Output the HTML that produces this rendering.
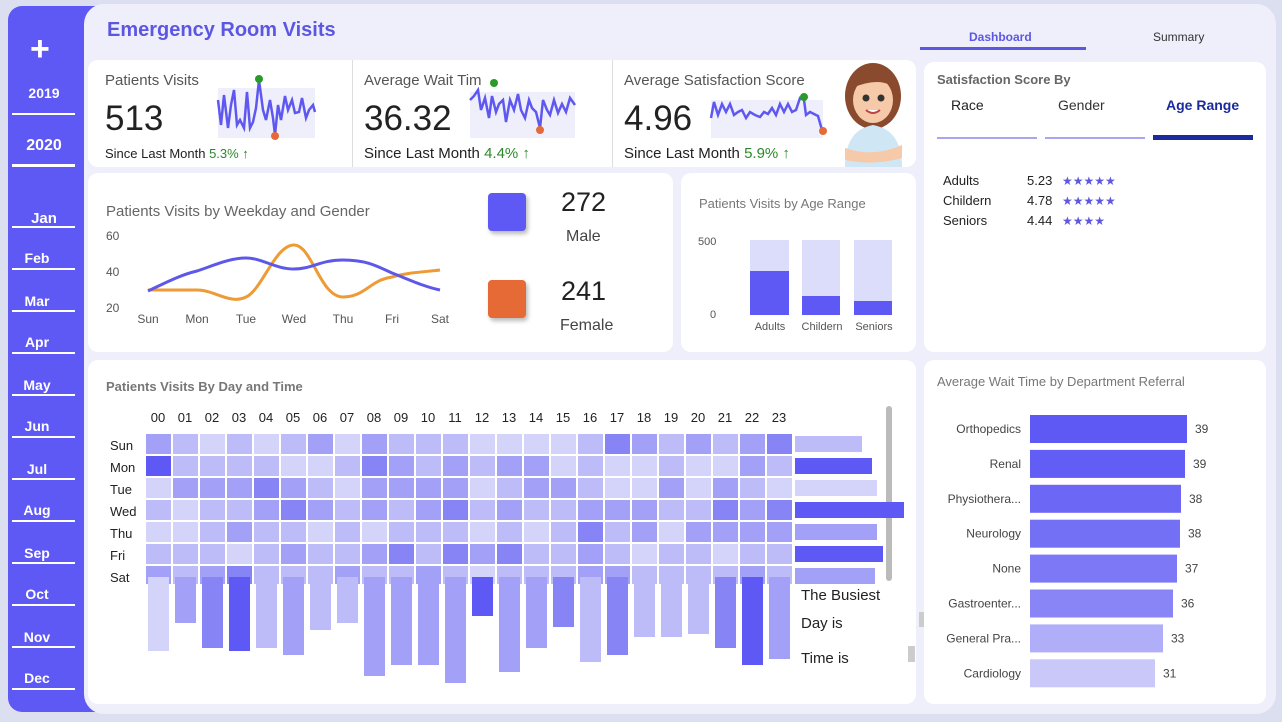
<!DOCTYPE html>
<html><head><meta charset="utf-8">
<style>
*{margin:0;padding:0;box-sizing:border-box}
body{width:1282px;height:722px;background:#dcdff0;font-family:"Liberation Sans",sans-serif;position:relative;overflow:hidden}
.a{position:absolute}
.card{position:absolute;background:#fff;border-radius:10px}
.side{color:#fff;font-size:14px;font-weight:bold;text-align:center;width:64px;left:12px}
.sl{position:absolute;left:12px;width:63px;height:2px;background:#fff}
.t{position:absolute;white-space:nowrap}
</style></head><body>
<div class="a" style="left:8px;top:6px;width:110px;height:706px;background:#5e58f4;border-radius:14px"></div>
<div class="a" style="left:84px;top:4px;width:1192px;height:710px;background:#efeffc;border-radius:20px"></div>

<!-- sidebar -->
<div class="t" style="left:30px;top:30px;color:#fff;font-size:34px;font-weight:bold">+</div>
<div class="t side" style="top:85px">2019</div><div class="sl" style="top:113px"></div>
<div class="t side" style="top:137px;font-size:16px">2020</div><div class="sl" style="top:164px;height:3px"></div>
<div class="t side" style="top:210px;font-size:15px">Jan</div><div class="sl" style="top:226px"></div>
<div class="t side" style="top:250px;left:10px;width:54px">Feb</div><div class="sl" style="top:268px"></div>
<div class="t side" style="top:293px;left:10px;width:54px">Mar</div><div class="sl" style="top:310px"></div>
<div class="t side" style="top:334px;left:10px;width:54px">Apr</div><div class="sl" style="top:352px"></div>
<div class="t side" style="top:377px;left:10px;width:54px">May</div><div class="sl" style="top:394px"></div>
<div class="t side" style="top:418px;left:10px;width:54px">Jun</div><div class="sl" style="top:436px"></div>
<div class="t side" style="top:461px;left:10px;width:54px">Jul</div><div class="sl" style="top:478px"></div>
<div class="t side" style="top:502px;left:10px;width:54px">Aug</div><div class="sl" style="top:520px"></div>
<div class="t side" style="top:545px;left:10px;width:54px">Sep</div><div class="sl" style="top:562px"></div>
<div class="t side" style="top:586px;left:10px;width:54px">Oct</div><div class="sl" style="top:604px"></div>
<div class="t side" style="top:629px;left:10px;width:54px">Nov</div><div class="sl" style="top:646px"></div>
<div class="t side" style="top:670px;left:10px;width:54px">Dec</div><div class="sl" style="top:688px"></div>

<!-- header -->
<div class="t" style="left:107px;top:19px;font-size:20px;font-weight:bold;color:#5c57e0">Emergency Room Visits</div>
<div class="t" style="left:969px;top:30px;font-size:12px;font-weight:bold;color:#5c57e0">Dashboard</div>
<div class="a" style="left:920px;top:47px;width:166px;height:3px;background:#5c57e0"></div>
<div class="t" style="left:1153px;top:30px;font-size:12px;color:#333">Summary</div>

<!-- KPI card -->
<div class="card" style="left:88px;top:60px;width:828px;height:107px"></div>
<div class="a" style="left:352px;top:60px;width:1px;height:107px;background:#ddd"></div>
<div class="a" style="left:612px;top:60px;width:1px;height:107px;background:#ddd"></div>
<div class="t" style="left:105px;top:72px;font-size:15px;color:#555">Patients Visits</div>
<div class="t" style="left:105px;top:99px;font-size:35px;color:#222">513</div>
<div class="t" style="left:105px;top:146px;font-size:13px;color:#222">Since Last Month <span style="color:#2a8a2a">5.3% ↑</span></div>
<div class="t" style="left:364px;top:72px;font-size:15px;color:#555">Average Wait Tim</div>
<div class="t" style="left:364px;top:99px;font-size:35px;color:#222">36.32</div>
<div class="t" style="left:364px;top:145px;font-size:15px;color:#222">Since Last Month <span style="color:#2a8a2a">4.4% ↑</span></div>
<div class="t" style="left:624px;top:72px;font-size:15px;color:#555">Average Satisfaction Score</div>
<div class="t" style="left:624px;top:99px;font-size:35px;color:#222">4.96</div>
<div class="t" style="left:624px;top:145px;font-size:15px;color:#222">Since Last Month <span style="color:#2a8a2a">5.9% ↑</span></div>
<svg class="a" style="left:0;top:0" width="1282" height="722">
<rect x="218" y="88" width="97" height="50" fill="#efeffc"/>
<polyline fill="none" stroke="#5e58f0" stroke-width="2.5" points="218,100 221,125 224,95 228,128 231,105 234,90 237,125 240,120 244,128 247,92 250,128 253,122 256,108 259,80 263,110 266,120 270,100 273,118 275,135 278,105 281,120 285,96 288,110 292,100 295,113 299,112 302,98 306,118 309,110 313,105 315,112"/>
<circle cx="259" cy="79" r="4" fill="#2a9a2a"/><circle cx="275" cy="136" r="4" fill="#e56a3a"/>
<rect x="470" y="92" width="105" height="46" fill="#efeffc"/>
<polyline fill="none" stroke="#5e58f0" stroke-width="2.5" points="470,100 474,96 478,90 481,110 485,98 489,118 492,96 496,112 499,104 503,100 506,122 510,100 514,110 518,94 521,110 525,118 529,100 532,108 536,112 540,128 543,100 547,110 550,115 554,100 558,113 562,104 566,112 570,98 575,105"/>
<circle cx="494" cy="83" r="4" fill="#2a9a2a"/><circle cx="540" cy="130" r="4" fill="#e56a3a"/>
<rect x="711" y="100" width="112" height="38" fill="#efeffc"/>
<polyline fill="none" stroke="#5e58f0" stroke-width="2.5" points="711,118 714,102 718,115 722,104 726,112 730,104 734,115 738,112 742,110 746,118 750,112 755,115 760,117 764,112 768,114 772,108 776,115 780,104 784,112 788,104 792,112 796,110 800,98 804,100 806,115 810,112 814,114 818,116 822,130"/>
<circle cx="804" cy="97" r="4" fill="#2a9a2a"/><circle cx="823" cy="131" r="4" fill="#e56a3a"/>
<!-- nurse -->
<ellipse cx="873" cy="96" rx="28" ry="33" fill="#8a4a2e"/>
<ellipse cx="873" cy="100" rx="20" ry="23" fill="#f6c9a8"/>
<path d="M852,88 Q873,62 895,88 Q880,76 852,88Z" fill="#8a4a2e"/>
<circle cx="866" cy="98" r="3.5" fill="#333"/><circle cx="881" cy="98" r="3.5" fill="#333"/>
<path d="M866,110 Q873,116 880,110" stroke="#b44" stroke-width="2" fill="#fff"/>
<path d="M845,167 Q845,130 873,125 Q902,130 902,167Z" fill="#cfe6f5"/>
<path d="M845,148 Q873,158 902,145 L902,158 Q873,166 845,160Z" fill="#f6c9a8"/>
</svg>

<!-- Weekday card -->
<div class="card" style="left:88px;top:173px;width:585px;height:179px"></div>
<div class="t" style="left:106px;top:203px;font-size:15px;color:#666">Patients Visits by Weekday and Gender</div>
<div class="a" style="left:488px;top:193px;width:38px;height:38px;background:#5e58f5;border-radius:4px;box-shadow:2px 3px 4px #bbb"></div>
<div class="a" style="left:488px;top:280px;width:38px;height:38px;background:#e56a35;border-radius:4px;box-shadow:2px 3px 4px #bbb"></div>
<div class="t" style="left:561px;top:187px;font-size:27px;color:#222">272</div>
<div class="t" style="left:566px;top:228px;font-size:16px;color:#444">Male</div>
<div class="t" style="left:561px;top:276px;font-size:27px;color:#222">241</div>
<div class="t" style="left:560px;top:317px;font-size:16px;color:#444">Female</div>
<svg class="a" style="left:0;top:0" width="1282" height="722" font-family="Liberation Sans" font-size="12" fill="#555">
<text x="106" y="240">60</text><text x="106" y="276">40</text><text x="106" y="312">20</text>
<text x="148" y="323" text-anchor="middle">Sun</text><text x="197" y="323" text-anchor="middle">Mon</text><text x="246" y="323" text-anchor="middle">Tue</text><text x="294" y="323" text-anchor="middle">Wed</text><text x="343" y="323" text-anchor="middle">Thu</text><text x="392" y="323" text-anchor="middle">Fri</text><text x="440" y="323" text-anchor="middle">Sat</text>
<path d="M148,290 C165,290 180,290 197,290 C215,290 230,305 246,297 C262,290 275,245 294,245 C312,245 320,297 343,297 C365,297 370,280 392,277 C410,272 425,272 440,270" fill="none" stroke="#ee9a35" stroke-width="3"/>
<path d="M148,291 C165,283 180,275 197,271 C215,265 230,258 246,258 C262,258 275,269 294,269 C312,269 320,260 343,260 C365,260 375,265 392,273 C410,280 425,287 440,290" fill="none" stroke="#5e58e8" stroke-width="3"/>
</svg>

<!-- Age range card -->
<div class="card" style="left:681px;top:173px;width:235px;height:179px"></div>
<div class="t" style="left:699px;top:196px;font-size:13px;color:#777">Patients Visits by Age Range</div>
<svg class="a" style="left:0;top:0" width="1282" height="722" font-family="Liberation Sans" font-size="11" fill="#555">
<text x="698" y="245">500</text><text x="710" y="318">0</text>
<rect x="750" y="240" width="39" height="75" fill="#dcdcfb"/><rect x="750" y="271" width="39" height="44" fill="#5e58f5"/>
<rect x="802" y="240" width="38" height="75" fill="#dcdcfb"/><rect x="802" y="296" width="38" height="19" fill="#5e58f5"/>
<rect x="854" y="240" width="38" height="75" fill="#dcdcfb"/><rect x="854" y="301" width="38" height="14" fill="#5e58f5"/>
<text x="770" y="330" text-anchor="middle">Adults</text><text x="822" y="330" text-anchor="middle">Childern</text><text x="874" y="330" text-anchor="middle">Seniors</text>
</svg>

<!-- Satisfaction card -->
<div class="card" style="left:924px;top:62px;width:342px;height:290px"></div>
<div class="t" style="left:937px;top:72px;font-size:13px;font-weight:bold;color:#666">Satisfaction Score By</div>
<div class="t" style="left:951px;top:97px;font-size:14px;color:#222">Race</div>
<div class="t" style="left:1058px;top:97px;font-size:14px;color:#333">Gender</div>
<div class="t" style="left:1166px;top:97px;font-size:14px;font-weight:bold;color:#1b2a9c">Age Range</div>
<div class="a" style="left:937px;top:137px;width:100px;height:2px;background:#a8a6ee"></div>
<div class="a" style="left:1045px;top:137px;width:100px;height:2px;background:#a8a6ee"></div>
<div class="a" style="left:1153px;top:135px;width:100px;height:5px;background:#1b2a9c"></div>
<div class="t" style="left:943px;top:171px;font-size:13px;color:#222;line-height:20px">Adults<br>Childern<br>Seniors</div>
<div class="t" style="left:1027px;top:171px;font-size:13px;color:#222;line-height:20px">5.23<br>4.78<br>4.44</div>
<div class="t" style="left:1062px;top:171px;font-size:12px;color:#5e58e0;line-height:20px">★★★★★<br>★★★★★<br>★★★★</div>

<!-- Heatmap card -->
<div class="card" style="left:88px;top:360px;width:828px;height:344px"></div>
<div class="t" style="left:106px;top:379px;font-size:13px;font-weight:bold;color:#777">Patients Visits By Day and Time</div>
<div class="a" style="left:886px;top:406px;width:6px;height:175px;background:#bbb;border-radius:3px"></div>
<div class="a" style="left:919px;top:612px;width:6px;height:15px;background:#ccc"></div>
<div class="a" style="left:908px;top:646px;width:7px;height:16px;background:#ccc"></div>
<div class="t" style="left:801px;top:587px;font-size:15px;color:#222">The Busiest</div>
<div class="t" style="left:801px;top:615px;font-size:15px;color:#222">Day is</div>
<div class="t" style="left:801px;top:650px;font-size:15px;color:#222">Time is</div>
<svg id="hm" class="a" style="left:0;top:0" width="1282" height="722" font-family="Liberation Sans" font-size="13" fill="#222"></svg>

<!-- Wait time card -->
<div class="card" style="left:924px;top:360px;width:342px;height:344px"></div>
<div class="t" style="left:937px;top:374px;font-size:13px;color:#777">Average Wait Time by Department Referral</div>
<svg id="wt" class="a" style="left:0;top:0" width="1282" height="722" font-family="Liberation Sans" font-size="12" fill="#444"></svg>

<script>
var C=['#d4d4fa','#bdbcf9','#a3a1f7','#8784f6','#5e59f5'];
var g=[
[3,2,1,2,1,2,3,1,3,2,2,2,1,1,1,1,2,4,3,2,3,2,3,4],
[5,2,2,2,2,1,1,2,4,3,2,3,2,3,3,1,2,1,1,2,1,1,3,2],
[1,3,3,3,4,3,2,1,3,3,3,3,1,2,3,3,2,1,1,3,1,3,2,1],
[2,1,2,2,3,4,3,2,3,2,3,4,2,3,2,2,3,3,3,2,2,4,3,4],
[1,1,2,3,2,2,1,2,1,2,2,2,1,2,1,2,4,2,3,1,3,3,3,3],
[2,2,2,1,2,3,2,2,3,4,2,4,3,4,2,2,3,2,1,2,2,1,2,2],
[3,2,3,4,2,2,2,3,2,2,3,2,1,2,2,2,3,3,2,2,2,2,3,2]];
var days=['Sun','Mon','Tue','Wed','Thu','Fri','Sat'];
var bl=[1,3,4,5,2,3,2,2,3,3,3,3,5,3,3,4,2,4,2,2,2,4,5,3];
var bb=[651,623,648,651,648,655,630,623,676,665,665,683,616,672,648,627,662,655,637,637,634,648,665,659];
var s='';
for(var c=0;c<24;c++){var x=146+c*27;s+='<text x="'+(x+12)+'" y="422" text-anchor="middle">'+(c<10?'0'+c:c)+'</text>';}
for(var r=0;r<7;r++){var y=434+r*22;s+='<text x="110" y="'+(y+16)+'">'+days[r]+'</text>';
for(var c=0;c<24;c++){s+='<rect x="'+(146+c*27)+'" y="'+y+'" width="25" height="'+(r==6?18:20)+'" fill="'+C[g[r][c]-1]+'"/>';}}
for(var c=0;c<24;c++){s+='<rect x="'+(148+c*27)+'" y="577" width="21" height="'+(bb[c]-577)+'" fill="'+C[bl[c]-1]+'"/>';}
var de=[862,872,877,904,877,883,875],dl=[2,5,1,5,3,5,3];
for(var r=0;r<7;r++){s+='<rect x="795" y="'+(436+r*22)+'" width="'+(de[r]-795)+'" height="16" fill="'+C[dl[r]-1]+'"/>';}
document.getElementById('hm').innerHTML=s;
var dn=['Orthopedics','Renal','Physiothera...','Neurology','None','Gastroenter...','General Pra...','Cardiology'];
var dv=[39,39,38,38,37,36,33,31],de2=[1187,1185,1181,1180,1177,1173,1163,1155];
var wc=['#5e59f5','#625df5','#6c67f5','#7470f5','#7d79f6','#8985f6','#b0aef8','#c9c8f9'];
s='';
for(var i=0;i<8;i++){var y=429+i*34.9;s+='<text x="1021" y="'+(y+4)+'" text-anchor="end">'+dn[i]+'</text><rect x="1030" y="'+(y-14)+'" width="'+(de2[i]-1030)+'" height="28" fill="'+wc[i]+'"/><text x="'+(de2[i]+8)+'" y="'+(y+4)+'">'+dv[i]+'</text>';}
document.getElementById('wt').innerHTML=s;
</script>
</body></html>
